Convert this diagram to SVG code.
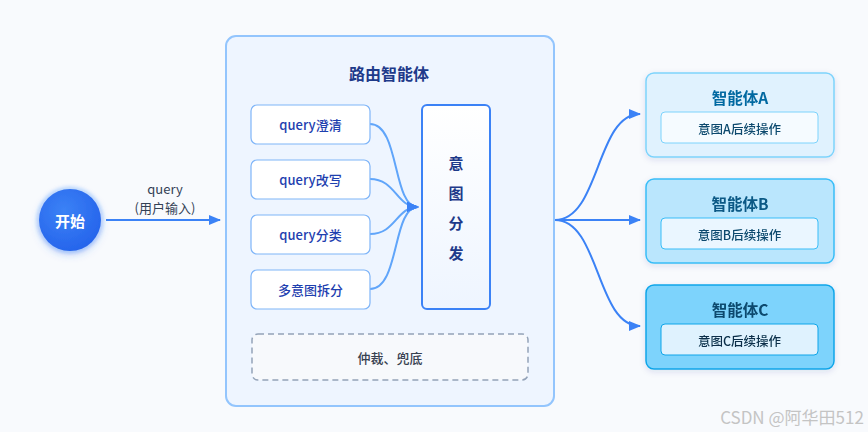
<svg xmlns="http://www.w3.org/2000/svg" width="868" height="432" viewBox="0 0 868 432">
<defs>
<style>
text{font-family:"Noto Sans CJK SC","Liberation Sans",sans-serif;text-anchor:middle;dominant-baseline:central}
.sub{fill:#fff;stroke:#7fb5f8;stroke-width:1.2}
.subt{font-size:13px;font-weight:500;fill:#1e40af}
.agtt{font-size:15.5px;font-weight:700}
.innt{font-size:12.5px;font-weight:500}
.cin{fill:none;stroke:#60a5fa;stroke-width:2}
.cout{fill:none;stroke:#3b82f6;stroke-width:2}
</style>
<radialGradient id="gStart" cx="0.4" cy="0.35" r="0.7">
<stop offset="0" stop-color="#3b82f6"/>
<stop offset="1" stop-color="#2563eb"/>
</radialGradient>
<linearGradient id="gIntent" x1="0" y1="0" x2="0" y2="1">
<stop offset="0" stop-color="#ffffff"/>
<stop offset="1" stop-color="#eef5ff"/>
</linearGradient>
<filter id="sh" x="-20%" y="-20%" width="140%" height="150%">
<feDropShadow dx="0" dy="2" stdDeviation="3" flood-color="#1e3a8a" flood-opacity="0.12"/>
</filter>
<filter id="glow" x="-50%" y="-50%" width="200%" height="200%">
<feDropShadow dx="0" dy="3" stdDeviation="4" flood-color="#2563eb" flood-opacity="0.3"/>
</filter>
<filter id="halo" x="-50%" y="-50%" width="200%" height="200%">
<feGaussianBlur stdDeviation="1.5"/>
</filter>
<marker id="arr" viewBox="0 0 12 10" refX="11" refY="5" markerWidth="12" markerHeight="10" markerUnits="userSpaceOnUse" orient="auto">
<path d="M0,0 L12,5 L0,10 Z" fill="#3b82f6"/>
</marker>
<marker id="arrL" viewBox="0 0 12 10" refX="11" refY="5" markerWidth="12" markerHeight="10" markerUnits="userSpaceOnUse" orient="auto">
<path d="M0,0 L12,5 L0,10 Z" fill="#3b82f6"/>
</marker>
</defs>
<rect x="0" y="0" width="868" height="432" fill="#f8fafd"/>

<g id="router">
<rect x="226" y="36" width="328" height="370" rx="10" fill="#eef5ff" stroke="#93c5fd" stroke-width="2"/>
<text x="389" y="73" style="font-size:16px;font-weight:700;fill:#1e3a8a">路由智能体</text>
</g>

<g id="start">
<circle cx="70" cy="220" r="34" fill="#cfe2fd" filter="url(#halo)"/>
<circle cx="70" cy="220" r="31" fill="url(#gStart)" filter="url(#glow)"/>
<text x="70" y="220" style="font-size:15px;font-weight:700;fill:#fff">开始</text>
</g>

<g id="connectors">
<line x1="106" y1="220" x2="220" y2="220" class="cout" marker-end="url(#arr)"/>
<text x="165" y="188" style="font-size:13px;fill:#334155">query</text>
<text x="165" y="207" style="font-size:13px;fill:#334155">(用户输入)</text>
<path class="cin" d="M370,124 C400,124 392,207 418,207" marker-end="url(#arrL)"/>
<path class="cin" d="M370,179 C396,179 396,207 418,207" marker-end="url(#arrL)"/>
<path class="cin" d="M370,234 C396,234 396,207 418,207" marker-end="url(#arrL)"/>
<path class="cin" d="M370,289 C400,289 392,207 418,207" marker-end="url(#arrL)"/>
<path class="cout" d="M555,220 C600,220 596,114 640,114" marker-end="url(#arr)"/>
<line x1="555" y1="220" x2="640" y2="220" class="cout" marker-end="url(#arr)"/>
<path class="cout" d="M555,220 C600,220 596,326 640,326" marker-end="url(#arr)"/>
</g>

<g id="clarify">
<rect class="sub" x="251" y="105" width="119" height="39" rx="6"/>
<text class="subt" x="310.5" y="124.5">query澄清</text>
</g>
<g id="rewrite">
<rect class="sub" x="251" y="160" width="119" height="39" rx="6"/>
<text class="subt" x="310.5" y="179.5">query改写</text>
</g>
<g id="classify">
<rect class="sub" x="251" y="215" width="119" height="39" rx="6"/>
<text class="subt" x="310.5" y="234.5">query分类</text>
</g>
<g id="split">
<rect class="sub" x="251" y="270" width="119" height="39" rx="6"/>
<text class="subt" x="310.5" y="289.5">多意图拆分</text>
</g>

<g id="intent">
<rect x="422" y="105" width="68" height="204" rx="5" fill="url(#gIntent)" stroke="#3b82f6" stroke-width="2"/>
<text x="456" y="162" style="font-size:15px;font-weight:700;fill:#1e3a8a">意</text>
<text x="456" y="192" style="font-size:15px;font-weight:700;fill:#1e3a8a">图</text>
<text x="456" y="222" style="font-size:15px;font-weight:700;fill:#1e3a8a">分</text>
<text x="456" y="252" style="font-size:15px;font-weight:700;fill:#1e3a8a">发</text>
</g>

<g id="fallback">
<rect x="252" y="334" width="276" height="46" rx="6" fill="#f7f9fc" stroke="#94a3b8" stroke-width="1.5" stroke-dasharray="6 4"/>
<text x="390" y="357" style="font-size:13px;font-weight:500;fill:#374151">仲裁、兜底</text>
</g>

<g id="agentA" filter="url(#sh)">
<rect x="646" y="73" width="188" height="84" rx="8" fill="#e0f2fe" stroke="#7dd3fc" stroke-width="1.5"/>
<text class="agtt" x="740" y="97" fill="#0369a1">智能体A</text>
<rect x="661" y="112" width="157" height="31" rx="4" fill="#f5fbff" stroke="#7dd3fc" stroke-width="1"/>
<text class="innt" x="739.5" y="128" fill="#0c4a6e">意图A后续操作</text>
</g>
<g id="agentB" filter="url(#sh)">
<rect x="646" y="179" width="188" height="84" rx="8" fill="#bae6fd" stroke="#38bdf8" stroke-width="1.5"/>
<text class="agtt" x="740" y="203" fill="#075985">智能体B</text>
<rect x="661" y="218" width="157" height="31" rx="4" fill="#eaf6ff" stroke="#38bdf8" stroke-width="1"/>
<text class="innt" x="739.5" y="234" fill="#0c4a6e">意图B后续操作</text>
</g>
<g id="agentC" filter="url(#sh)">
<rect x="646" y="285" width="188" height="84" rx="8" fill="#7dd3fc" stroke="#0ea5e9" stroke-width="1.5"/>
<text class="agtt" x="740" y="309" fill="#0c4a6e">智能体C</text>
<rect x="661" y="324" width="157" height="31" rx="4" fill="#dff2fe" stroke="#0ea5e9" stroke-width="1"/>
<text class="innt" x="739.5" y="340" fill="#082f49">意图C后续操作</text>
</g>

<text x="792" y="416" style="font-size:17px;fill:#c4c4c4">CSDN @阿华田512</text>
</svg>
